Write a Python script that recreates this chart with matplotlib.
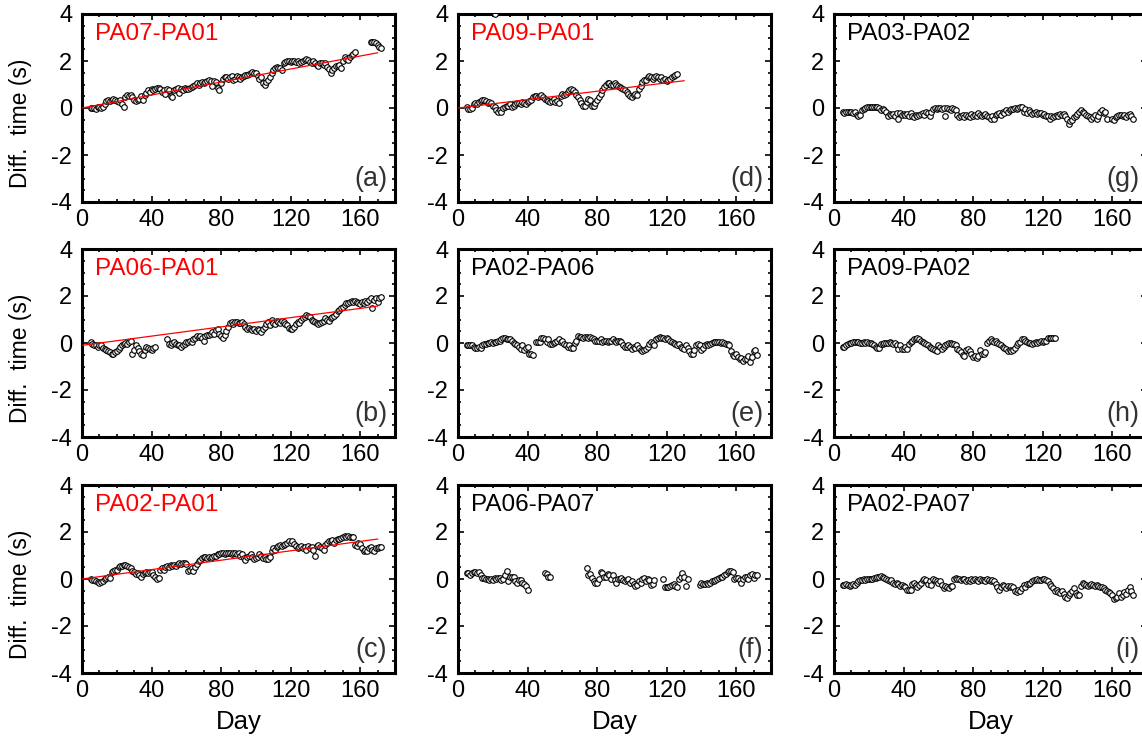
import numpy as np
import matplotlib
matplotlib.use('Agg')
import matplotlib.pyplot as plt
from matplotlib.ticker import MultipleLocator

plt.rcParams['font.family'] = ['Liberation Sans', 'DejaVu Sans']
plt.rcParams['axes.unicode_minus'] = False

# each series is a list of runs: (first day, daily values)
pa07_pa01 = [
    (5, [0.02, -0.02, 0.0, -0.03, 0.03, 0.05, 0.0, 0.05,
         0.15, 0.3, 0.35, 0.3, 0.35, 0.4, 0.35, 0.3,
         0.25, 0.35, 0.15, 0.05,
         0.45, 0.55, 0.5, 0.55, 0.45, 0.35,
         0.3, 0.35, 0.4, 0.5, 0.35,
         0.55, 0.65, 0.75, 0.7, 0.8, 0.75, 0.8, 0.85, 0.85, 0.8,
         0.7, 0.75, 0.6, 0.8, 0.75, 0.5, 0.45,
         0.75, 0.8, 0.85, 0.65, 0.8, 0.75, 0.85, 0.8,
         0.8, 0.85, 0.9, 0.95, 1.0, 1.05, 1.0, 1.05, 1.1, 1.05,
         1.1, 1.15, 1.2, 1.15, 0.95, 1.15, 1.1, 0.85, 0.75, 1.05,
         1.25, 1.3, 1.3, 1.25, 1.3, 1.35, 1.2, 1.25, 1.35, 1.3, 1.25, 1.3, 1.35, 1.4, 1.4,
         1.45, 1.5, 1.55, 1.5, 1.5,
         1.35, 1.25, 1.3, 1.05, 1.0, 1.1, 1.2,
         1.3, 1.5, 1.6, 1.7, 1.75, 1.7, 1.7, 1.6,
         1.9, 1.95, 2.0, 2.0, 1.95, 2.0, 2.0, 1.95, 2.0, 1.9, 1.95, 2.0, 2.05, 2.1, 2.05,
         1.95, 1.9, 2.0, 1.9, 1.85, 1.8, 1.9, 1.9, 1.85, 1.9,
         1.75, 1.65, 1.5, 1.6, 1.7,
         1.8, 1.8, 1.85, 1.7, 2.0,
         2.15, 2.1, 2.05, 2.15, 2.25, 2.3, 2.4]),
    (166, [2.8, 2.8, 2.8, 2.75, 2.7, 2.6, 2.55]),
]

pa06_pa01 = [
    (5, [0.05, -0.05, -0.1, -0.1, -0.15, -0.1, -0.1, -0.2,
         -0.25, -0.3, -0.35, -0.4, -0.45, -0.45, -0.4, -0.35,
         -0.25, -0.15, -0.1, -0.05, 0.0, -0.05, 0.05, 0.1,
         -0.45, -0.3, -0.1, -0.2, -0.35, -0.45, -0.5,
         -0.3, -0.15, -0.2, -0.25, -0.3, -0.2, -0.15]),
    (49, [0.15, -0.05, -0.1, 0.0, 0.05, -0.05,
          -0.1, -0.1, -0.15, -0.1, -0.05, 0.05,
          0.05, 0.1, 0.05, 0.15, 0.2, 0.3,
          0.25, 0.3, 0.2, 0.1, 0.3, 0.35,
          0.35, 0.4, 0.45, 0.4, 0.55, 0.6, 0.4, 0.3,
          0.2, 0.35, 0.5, 0.7,
          0.85, 0.9, 0.8, 0.9, 0.9, 0.85, 0.85, 0.9, 0.8,
          0.7, 0.6, 0.65, 0.6, 0.55, 0.6, 0.5,
          0.6, 0.55, 0.45, 0.6, 0.7,
          0.8, 0.9, 0.75, 1.0, 0.85, 0.8, 0.95,
          0.9, 0.85, 0.95, 0.9, 0.8, 0.75,
          0.65, 0.6, 0.6, 0.7, 0.8,
          0.9, 0.85, 1.0, 1.05, 1.1, 1.2, 1.15,
          1.1, 1.0, 0.95, 0.9, 0.85, 0.8,
          0.85, 0.9, 0.95, 1.05, 1.0, 0.95, 1.05, 1.1, 1.15,
          1.25, 1.35, 1.4, 1.5, 1.55,
          1.6, 1.7, 1.7, 1.75, 1.8, 1.75, 1.8, 1.75,
          1.7, 1.65, 1.75, 1.7, 1.8, 1.75, 1.85,
          1.9, 1.5, 1.85, 1.9, 1.75, 1.9, 1.95]),
]

pa02_pa01 = [
    (5, [0.0, -0.05, -0.05, -0.1, -0.12, -0.15, -0.12, -0.1,
         0.0, 0.05, 0.1, 0.05,
         0.3, 0.35, 0.4, 0.4,
         0.5, 0.55, 0.55, 0.6, 0.6, 0.55,
         0.5, 0.45, 0.35, 0.3,
         0.2, 0.25, 0.15, 0.1, 0.2, 0.25,
         0.3, 0.25, 0.3, 0.3,
         0.15, 0.1, 0.0, 0.05,
         0.4, 0.45, 0.4, 0.5, 0.55, 0.5,
         0.6, 0.55, 0.6, 0.55, 0.65,
         0.7, 0.65, 0.7, 0.7, 0.65,
         0.35, 0.4, 0.45, 0.35,
         0.5, 0.65, 0.75, 0.8,
         0.9, 0.95, 0.95, 0.9, 0.95, 0.9, 0.95,
         1.0, 1.0, 1.05, 1.05, 1.1, 1.1, 1.05, 1.1, 1.1, 1.1, 1.05, 1.1, 1.1, 1.05, 1.1,
         1.0, 1.05, 0.9, 0.8, 0.95,
         1.0, 1.05, 0.95, 0.85, 0.9,
         0.95, 1.05, 1.0, 0.9, 0.95, 0.85, 0.85, 0.95,
         1.2, 1.3, 1.25, 1.35, 1.4, 1.45, 1.4,
         1.45, 1.5, 1.55, 1.6, 1.55, 1.6, 1.5,
         1.4, 1.3, 1.35, 1.4, 1.3, 1.35, 1.25,
         1.4, 1.3, 1.35, 1.25, 1.0,
         1.4, 1.45, 1.35, 1.3, 1.25, 1.45,
         1.55, 1.6, 1.6, 1.65, 1.55, 1.65, 1.7, 1.7,
         1.75, 1.8, 1.85, 1.8, 1.85, 1.8, 1.8, 1.8,
         1.45, 1.4, 1.55, 1.5,
         1.3, 1.2, 1.25, 1.2, 1.3,
         1.35, 1.25, 1.2, 1.3, 1.3, 1.35, 1.35]),
]

pa09_pa01 = [
    (5, [0.05, -0.03, -0.05, 0.0,
         0.15, 0.2, 0.15, 0.25,
         0.3, 0.35, 0.35, 0.3, 0.2,
         0.25, 0.2, 0.1, 0.05, -0.1,
         -0.15, -0.1, -0.15, 0.0,
         0.05, 0.1, 0.1, 0.15, 0.05, 0.1, 0.15, 0.2,
         0.2, 0.15, 0.25, 0.2, 0.15, 0.25, 0.3, 0.35,
         0.45, 0.5, 0.5, 0.45, 0.5, 0.55, 0.45, 0.4,
         0.35, 0.3, 0.25, 0.3, 0.4, 0.25, 0.3, 0.2,
         0.5, 0.6, 0.55, 0.6,
         0.7, 0.75, 0.8, 0.75, 0.7,
         0.55, 0.45, 0.35, 0.2,
         0.1, 0.1, 0.25, 0.4,
         0.35, 0.1, 0.1, 0.2, 0.35,
         0.45, 0.6, 0.75, 0.9,
         1.0, 1.05, 1.05, 1.0, 1.0, 1.05, 1.0, 0.95, 0.9, 0.85,
         0.8, 0.75, 0.7, 0.6,
         0.5, 0.45, 0.55, 0.6, 0.55,
         0.8, 0.95, 1.1, 1.2, 1.2,
         1.3, 1.35, 1.3, 1.25, 1.3, 1.35, 1.3, 1.25,
         1.3, 1.2, 1.25, 1.15, 1.2, 1.25, 1.3, 1.35, 1.4, 1.45]),
    (21, [3.98]),
]

pa02_pa06 = [
    (5, [-0.08, -0.1, -0.08, -0.1, -0.15, -0.2,
         -0.2, -0.15, -0.2, -0.1,
         -0.05, -0.05, 0.0, 0.02,
         0.05, 0.0, 0.05, 0.05, 0.1, 0.1,
         0.15, 0.2, 0.2, 0.18, 0.15, 0.15,
         0.1, 0.0, -0.05, -0.1, -0.15,
         -0.25, -0.1, -0.3, -0.2, -0.15,
         -0.45, -0.45, -0.5]),
    (45, [0.05, 0.05, 0.05, 0.2, 0.2, 0.15,
          0.05, 0.15, -0.05, -0.05, 0.0, 0.05, 0.1, 0.15,
          0.05, 0.1, -0.05, -0.1,
          -0.15, -0.1, -0.2, -0.2,
          0.0, 0.1, 0.3, 0.25,
          0.25, 0.2, 0.25, 0.25, 0.2, 0.25, 0.2, 0.15, 0.1, 0.1,
          0.1, 0.15, 0.05, 0.1, 0.1, 0.05, 0.1, 0.1, 0.15, 0.1, 0.05, 0.1, 0.1, 0.05,
          -0.1, -0.15, -0.15, -0.1, -0.15, -0.25, -0.15, -0.2, -0.1, -0.2,
          -0.3, -0.35, -0.3, -0.25,
          -0.15, -0.05, 0.05, 0.0, -0.1,
          0.15, 0.2, 0.25, 0.2, 0.2, 0.15, 0.2,
          0.15, 0.1, 0.05, 0.0, -0.05, -0.1, -0.05, -0.15,
          -0.2, -0.25, -0.1, -0.2,
          -0.35, -0.45, -0.45, -0.3,
          -0.1, -0.05, -0.1, -0.3,
          -0.2, -0.1, -0.05, -0.1, -0.05, 0.0,
          0.05, 0.05, 0.05, 0.05, 0.0, 0.05,
          0.0, -0.05, -0.05, -0.1,
          -0.35, -0.5, -0.55, -0.45,
          -0.6, -0.7, -0.65, -0.75, -0.7, -0.7, -0.55, -0.8,
          -0.6, -0.35, -0.3, -0.5]),
]

pa06_pa07 = [
    (5, [0.25, 0.25, 0.15, 0.25, 0.3, 0.3, 0.25, 0.3,
         0.15, 0.05, 0.05, 0.0, 0.0, -0.05, 0.0, -0.05,
         0.05, 0.0, 0.05, 0.05, -0.05, 0.0, 0.15, 0.35,
         -0.1, 0.1, 0.1, 0.1, -0.1, -0.15,
         -0.05, -0.05, -0.15, -0.2, -0.3, -0.45]),
    (50, [0.25, 0.2, 0.1, 0.1]),
    (74, [0.45, 0.15, 0.2, 0.05, -0.1, -0.15, -0.15,
          0.0, 0.3, 0.25, 0.1, 0.1, 0.2, 0.15, 0.0, 0.15, -0.05,
          -0.15, 0.0, 0.0, 0.05, -0.05, -0.1, -0.05, 0.0, -0.15, -0.1,
          -0.2, -0.3, -0.25, -0.1, -0.15, 0.0, 0.05, -0.1, 0.0, -0.05, -0.25, -0.2, -0.05]),
    (118, [0.0, -0.35, -0.35, -0.35, -0.3, -0.25, -0.2, -0.3, -0.35,
           0.0, 0.1, 0.25, 0.1, -0.3, 0.0]),
    (139, [-0.25, -0.15, -0.2, -0.2, -0.15, -0.2, -0.15, -0.1,
           -0.1, -0.05, 0.0, 0.05, 0.1, 0.1,
           0.15, 0.2, 0.3, 0.35, 0.35, 0.3,
           0.0, 0.05, 0.05, -0.05, -0.15, 0.0,
           0.1, 0.1, 0.0, 0.15, 0.2, 0.05, 0.15, 0.15]),
]

pa03_pa02 = [
    (5, [-0.18, -0.2, -0.18, -0.15, -0.18, -0.15, -0.2, -0.15,
         -0.3, -0.35, -0.3, -0.1,
         -0.05, 0.0, 0.03, 0.03, 0.03, 0.03, 0.03, 0.03, 0.03, 0.0,
         -0.1, -0.05, -0.1, -0.15,
         -0.35, -0.25, -0.3, -0.25, -0.35, -0.2, -0.45, -0.2, -0.3, -0.25,
         -0.3, -0.25, -0.35, -0.2, -0.35, -0.4, -0.3, -0.35, -0.3, -0.25,
         -0.2, -0.3, -0.15, -0.2, -0.35, -0.15,
         -0.05, 0.0, -0.05, 0.0, 0.0, -0.05, 0.0, -0.35,
         0.0, -0.05, -0.1, 0.0, -0.05, -0.1,
         -0.3, -0.4, -0.35, -0.3, -0.4, -0.3, -0.35, -0.4, -0.25, -0.35,
         -0.3, -0.35, -0.2, -0.3, -0.35, -0.3, -0.25, -0.35,
         -0.4, -0.45, -0.35, -0.45,
         -0.3, -0.25, -0.2, -0.3, -0.15, -0.2, -0.1, -0.15,
         -0.1, -0.05, -0.05, 0.0, -0.05, 0.0, 0.05, 0.05, -0.15, -0.05,
         -0.2, -0.1, -0.15, -0.25, -0.2, -0.15, -0.25, -0.2,
         -0.2, -0.3, -0.25, -0.35, -0.35, -0.45,
         -0.35, -0.4, -0.35, -0.3, -0.35, -0.25,
         -0.3, -0.25, -0.35, -0.45,
         -0.7, -0.55, -0.5, -0.4,
         -0.35, -0.25, -0.15, -0.1, -0.15, -0.2, -0.3, -0.35,
         -0.4, -0.45, -0.4, -0.3, -0.45, -0.35,
         -0.15, -0.1, -0.2, -0.15, -0.45]),
    (160, [-0.45, -0.5, -0.4, -0.35, -0.3, -0.3, -0.35, -0.3, -0.4, -0.3, -0.25, -0.35, -0.45]),
]

pa09_pa02 = [
    (5, [-0.15, -0.15, -0.1, -0.05,
         0.0, 0.02, 0.05, 0.05, 0.05, 0.05, 0.02, 0.0, 0.05, 0.02, 0.05, 0.0,
         0.0, -0.05, -0.1, -0.15, -0.2, -0.2, -0.05,
         -0.05, 0.0, 0.0, 0.02, 0.05, 0.0, -0.05, 0.0,
         -0.1, -0.25, -0.1, -0.25, -0.25, -0.15, -0.25,
         -0.05, 0.05, 0.1, 0.18,
         0.15, 0.2, 0.15, 0.1, 0.05, 0.0,
         -0.05, -0.1, -0.15, -0.2, -0.25, -0.3,
         -0.35, -0.1, -0.15, -0.25,
         -0.15, -0.1, -0.05, 0.0, 0.0, -0.05,
         -0.05, -0.1, -0.25, -0.3,
         -0.4, -0.5, -0.55, -0.3, -0.25, -0.35,
         -0.45, -0.6, -0.55, -0.65, -0.55, -0.3,
         -0.45, -0.45, -0.4, 0.0,
         0.1, 0.15, 0.1, 0.05, 0.1, 0.0, -0.05, -0.1,
         -0.15, -0.2, -0.25, -0.35, -0.3, -0.35, -0.3, -0.2,
         -0.1, 0.0, 0.05, 0.15, 0.15, 0.1, 0.05, 0.0,
         0.0, -0.05, 0.0, 0.05, 0.0, 0.05, 0.1, 0.05,
         0.1, 0.1, 0.2, 0.2, 0.2, 0.2, 0.2]),
]

pa02_pa07 = [
    (5, [-0.25, -0.25, -0.2, -0.25, -0.3, -0.25, -0.2, -0.25,
         -0.15, -0.1, -0.05, -0.05, 0.0, -0.05, 0.0, -0.02,
         0.0, 0.02, 0.05, 0.05, 0.1, 0.08, 0.12, 0.1, 0.05, 0.0,
         -0.05, -0.1, -0.05, -0.15, -0.2, -0.15,
         -0.2, -0.3, -0.25, -0.3, -0.35, -0.45, -0.45, -0.45,
         -0.2, -0.15, -0.25, -0.35, -0.25, -0.15, -0.05, 0.0,
         -0.05, -0.2, -0.1, -0.25, 0.0, -0.05, -0.1, -0.15,
         -0.1, -0.25, -0.4, -0.3, -0.35, -0.4, -0.3, -0.3,
         0.0, 0.05, 0.02, 0.0, -0.05, 0.0, 0.0, -0.1, -0.05, -0.1, 0.0, -0.05,
         0.0, -0.05, -0.1, 0.0, -0.05, -0.05, -0.1, 0.0, -0.05, -0.1, -0.05, -0.1,
         -0.2, -0.35, -0.45, -0.35, -0.25, -0.3, -0.4, -0.3,
         -0.35, -0.3, -0.35, -0.5, -0.55, -0.45, -0.5, -0.4,
         -0.25, -0.35, -0.2, -0.2, -0.15, -0.1, -0.05, -0.05,
         0.0, -0.05, -0.05, 0.0, 0.0, -0.05, -0.1, -0.2,
         -0.3, -0.4, -0.5, -0.45, -0.55, -0.6, -0.5, -0.65,
         -0.75, -0.8, -0.7, -0.6, -0.5, -0.4, -0.6, -0.7,
         -0.7, -0.3, -0.15, -0.2, -0.25, -0.3, -0.25, -0.2,
         -0.25, -0.3, -0.25, -0.3, -0.35, -0.35, -0.4, -0.45,
         -0.5, -0.55, -0.6, -0.7, -0.85, -0.8, -0.75, -0.6,
         -0.75, -0.7, -0.55, -0.65, -0.45, -0.35, -0.5, -0.7]),
]

# linear trend lines: (day0, value0, day1, value1)
fit_pa07_pa01 = [0, 0.0, 170, 2.35]
fit_pa06_pa01 = [0, -0.1, 170, 1.57]
fit_pa02_pa01 = [0, 0.0, 170, 1.7]
fit_pa09_pa01 = [0, 0.0, 130, 1.16]

# column by column, top to bottom
pair_names = ['PA07-PA01', 'PA06-PA01', 'PA02-PA01',
              'PA09-PA01', 'PA02-PA06', 'PA06-PA07',
              'PA03-PA02', 'PA09-PA02', 'PA02-PA07']
panel_tags = ['(a)', '(b)', '(c)', '(d)', '(e)', '(f)', '(g)', '(h)', '(i)']
series = [pa07_pa01, pa06_pa01, pa02_pa01,
          pa09_pa01, pa02_pa06, pa06_pa07,
          pa03_pa02, pa09_pa02, pa02_pa07]
fits = [fit_pa07_pa01, fit_pa06_pa01, fit_pa02_pa01, fit_pa09_pa01,
        None, None, None, None, None]


def unpack(runs):
    days, vals = [], []
    for start, v in runs:
        days += list(range(start, start + len(v)))
        vals += v
    return np.array(days), np.array(vals)


W, H = 1142, 742
fig = plt.figure(figsize=(W / 100, H / 100), dpi=100)

col_left = [82, 458, 834]
row_top = [14, 249, 485]
aw, ah = 313, 188

for k in range(9):
    col, row = divmod(k, 3)
    ax = fig.add_axes([col_left[col] / W, 1 - (row_top[row] + ah) / H, aw / W, ah / H])
    d, v = unpack(series[k])
    ax.plot(d, v, 'o', ms=4.0, mfc='white', mec='black', mew=0.8, zorder=3)
    if fits[k] is not None:
        x0, y0, x1, y1 = fits[k]
        ax.plot([x0, x1], [y0, y1], color='red', lw=0.9, zorder=4)
        name_color = 'red'
    else:
        name_color = 'black'

    ax.set_xlim(0, 180)
    ax.set_ylim(-4, 4)
    ax.xaxis.set_major_locator(MultipleLocator(40))
    ax.xaxis.set_minor_locator(MultipleLocator(10))
    ax.yaxis.set_major_locator(MultipleLocator(2))
    ax.yaxis.set_minor_locator(MultipleLocator(0.5))
    ax.set_xticks([0, 40, 80, 120, 160])
    ax.tick_params(which='both', direction='in', top=True, right=True, width=1.2)
    ax.tick_params(which='major', length=4.5, labelsize=17, pad=5)
    ax.tick_params(which='minor', length=2.5)
    ax.tick_params(axis='y', pad=7)
    for s in ax.spines.values():
        s.set_linewidth(2.2)

    ax.text(0.042, 0.895, pair_names[k], transform=ax.transAxes, fontsize=17.5,
            color=name_color, ha='left', va='center')
    ax.text(0.975, 0.085, panel_tags[k], transform=ax.transAxes, fontsize=19.5,
            color='#333333', ha='right', va='baseline')

    if row == 2:
        ax.set_xlabel('Day', fontsize=18.5, labelpad=6)
    if col == 0:
        ax.set_ylabel('Diff.  time (s)', fontsize=16.5)
        ax.yaxis.set_label_coords(-0.16, 0.42)

fig.savefig('out.png', dpi=100)
